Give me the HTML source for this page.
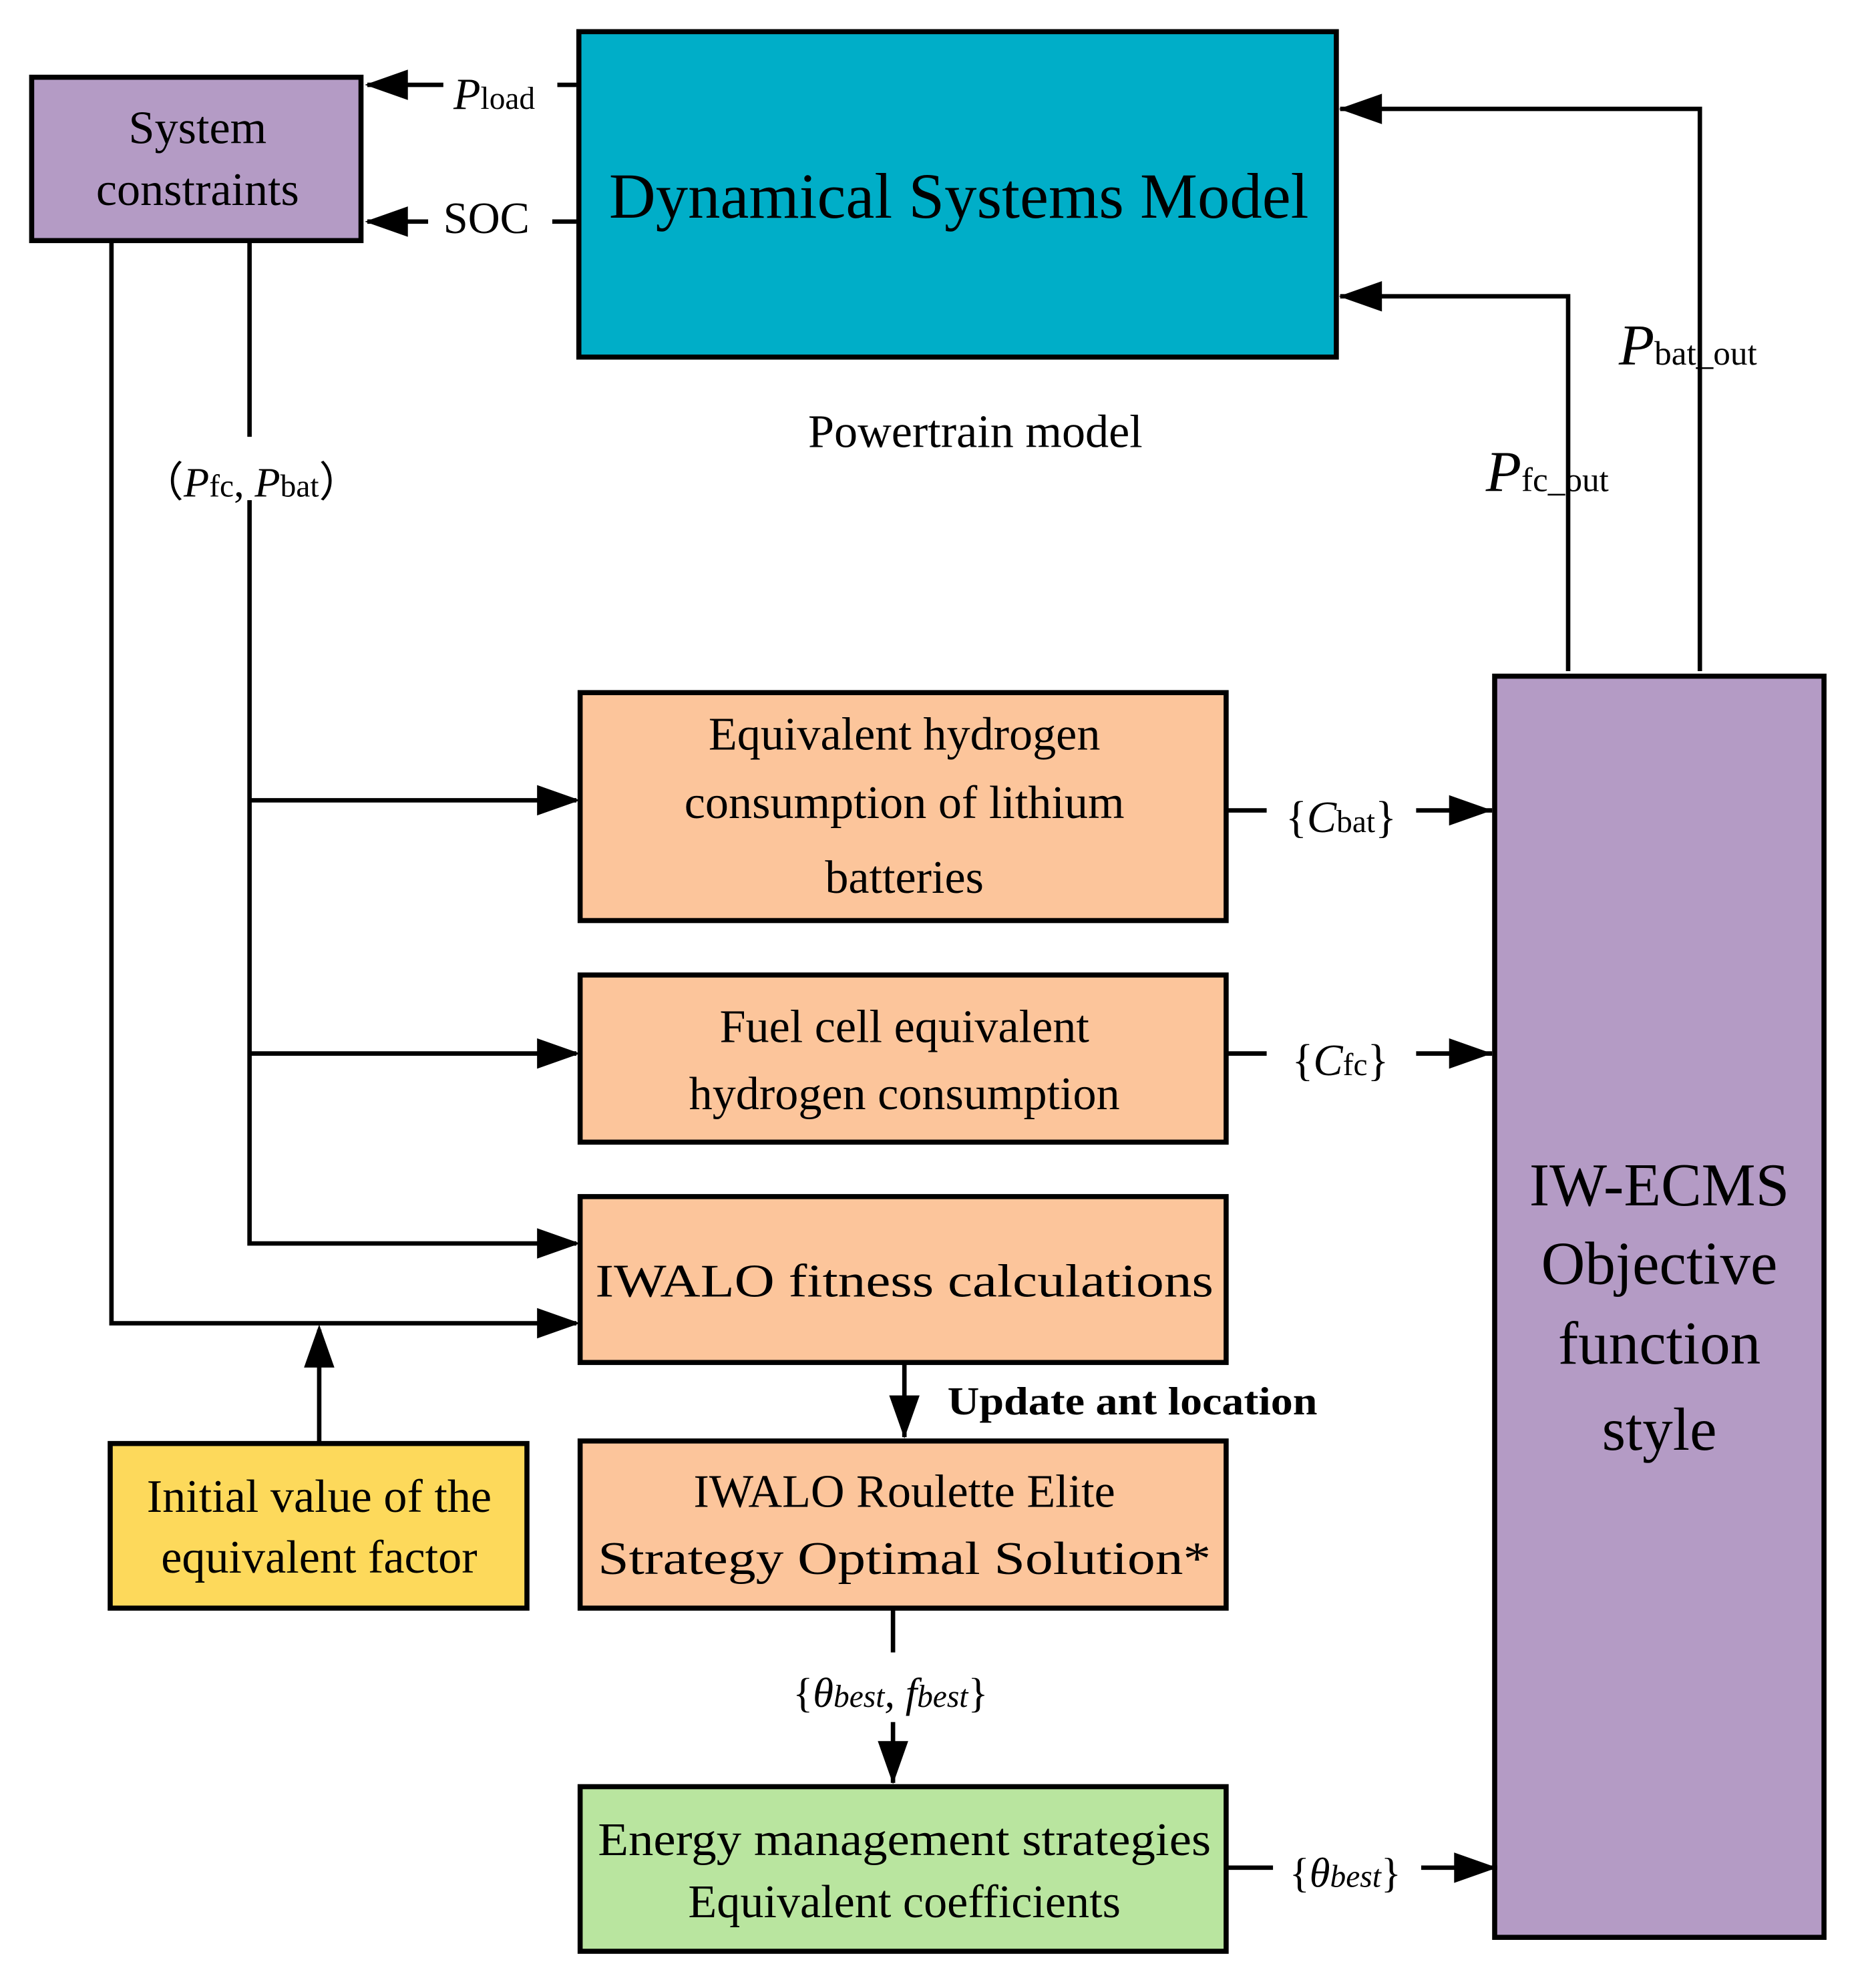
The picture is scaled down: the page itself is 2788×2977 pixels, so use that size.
<!DOCTYPE html>
<html><head><meta charset="utf-8"><style>
html,body{margin:0;padding:0;background:#fff}
svg{display:block}
text{font-family:"Liberation Serif","DejaVu Serif",serif;fill:#000}
</style></head><body>
<svg width="2788" height="2977" viewBox="0 0 1470 1570" preserveAspectRatio="none" xmlns="http://www.w3.org/2000/svg">
<g stroke="#000" stroke-width="4">
<rect x="25" y="61" width="260" height="129" fill="#b49bc5"/>
<rect x="457" y="25" width="598" height="257" fill="#00aec8"/>
<rect x="458" y="547" width="510" height="180" fill="#fcc59b"/>
<rect x="458" y="770" width="510" height="132" fill="#fcc59b"/>
<rect x="458" y="945" width="510" height="131" fill="#fcc59b"/>
<rect x="458" y="1138" width="510" height="132" fill="#fcc59b"/>
<rect x="458" y="1411" width="510" height="130" fill="#b9e59f"/>
<rect x="87" y="1140" width="329" height="130" fill="#fdd95b"/>
<rect x="1180" y="534" width="260" height="996" fill="#b49bc5"/>
</g>
<g stroke="#000" stroke-width="3.5" fill="none">
<path d="M455,67H440M350,67H290" />
<path d="M455,175H436M338,175H290" />
<path d="M1342,530V86H1058" />
<path d="M1238,530V234H1058" />
<path d="M88,190V1045H455" />
<path d="M197,190V345M197,395V982H455" />
<path d="M197,632H455M197,832H455" />
<path d="M252,1140V1050" />
<path d="M714,1076V1135" />
<path d="M705,1270V1305M705,1360V1408" />
<path d="M968,640H1000M1118,640H1178" />
<path d="M968,832H1000M1118,832H1178" />
<path d="M968,1475H1005M1122,1475H1182" />
</g>
<g fill="#000">
<path d="M288,67l34,-12v24z"/>
<path d="M288,175l34,-12v24z"/>
<path d="M1057,86l34,-12v24z"/>
<path d="M1057,234l34,-12v24z"/>
<path d="M458,632l-34,-12v24z"/>
<path d="M458,832l-34,-12v24z"/>
<path d="M458,982l-34,-12v24z"/>
<path d="M458,1045l-34,-12v24z"/>
<path d="M252,1046l-12,34h24z"/>
<path d="M714,1136l-12,-34h24z"/>
<path d="M705,1409l-12,-34h24z"/>
<path d="M1178,640l-34,-12v24z"/>
<path d="M1178,832l-34,-12v24z"/>
<path d="M1182,1475l-34,-12v24z"/>
</g>
<g font-size="37" text-anchor="middle">
<text x="156" y="113">System</text>
<text x="156" y="162">constraints</text>
<text x="757" y="172" font-size="51">Dynamical Systems Model</text>
<text x="770" y="353">Powertrain model</text>
<text x="714" y="592">Equivalent hydrogen</text>
<text x="714" y="646">consumption of lithium</text>
<text x="714" y="705">batteries</text>
<text x="714" y="823">Fuel cell equivalent</text>
<text x="714" y="876">hydrogen consumption</text>
<text x="714" y="1024" textLength="488" lengthAdjust="spacingAndGlyphs">IWALO fitness calculations</text>
<text x="714" y="1190">IWALO Roulette Elite</text>
<text x="714" y="1243" textLength="484" lengthAdjust="spacingAndGlyphs">Strategy Optimal Solution*</text>
<text x="714" y="1465" textLength="484" lengthAdjust="spacingAndGlyphs">Energy management strategies</text>
<text x="714" y="1514">Equivalent coefficients</text>
<text x="252" y="1194">Initial value of the</text>
<text x="252" y="1242">equivalent factor</text>
<text x="1310" y="952" font-size="48">IW-ECMS</text>
<text x="1310" y="1014" font-size="48">Objective</text>
<text x="1310" y="1077" font-size="48">function</text>
<text x="1310" y="1145" font-size="48">style</text>
</g>
<text x="748" y="1117" font-size="31" font-weight="bold" textLength="292" lengthAdjust="spacingAndGlyphs">Update ant location</text>
<text x="358" y="86" font-size="35"><tspan font-style="italic">P</tspan><tspan font-size="25">load</tspan></text>
<text x="350" y="184" font-size="35">SOC</text>
<text x="1278" y="288" font-size="46"><tspan font-style="italic">P</tspan><tspan font-size="27">bat_out</tspan></text>
<text x="1173" y="388" font-size="46"><tspan font-style="italic">P</tspan><tspan font-size="27">fc_out</tspan></text>
<text x="112" y="392" font-size="33">（<tspan font-style="italic">P</tspan><tspan font-size="25">fc</tspan>, <tspan font-style="italic">P</tspan><tspan font-size="25">bat</tspan>）</text>
<text x="1015" y="657" font-size="35">{<tspan font-style="italic">C</tspan><tspan font-size="25">bat</tspan>}</text>
<text x="1020" y="849" font-size="35">{<tspan font-style="italic">C</tspan><tspan font-size="25">fc</tspan>}</text>
<text x="626" y="1348" font-size="33">{<tspan font-style="italic">θ<tspan font-size="25">best</tspan>, f<tspan font-size="25">best</tspan></tspan>}</text>
<text x="1018" y="1490" font-size="33">{<tspan font-style="italic">θ<tspan font-size="25">best</tspan></tspan>}</text>
</svg>
</body></html>
